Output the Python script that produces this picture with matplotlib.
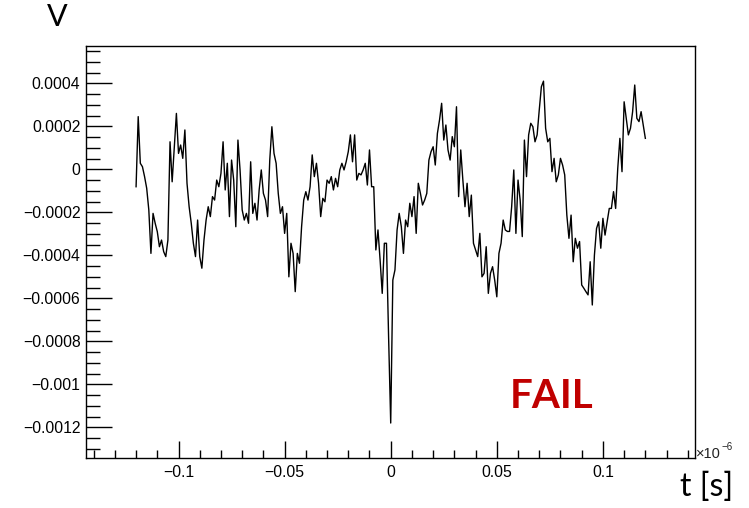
import numpy as np
import matplotlib
matplotlib.use("Agg")
import matplotlib.pyplot as plt
from matplotlib.ticker import FixedLocator, FixedFormatter

# Sampled waveform: 1 ns spacing from -0.12 to 0.12 (x 1e-6 s)
t_start, t_stop = -0.12, 0.12
# Voltage samples in units of 1e-4 V
voltage_1e4 = [
    -0.81, 2.45, 0.28, 0.12, -0.34, -0.88, -1.89, -3.91, -2.05, -2.51,
    -2.90, -3.60, -3.29, -3.83, -4.06, -3.29, 1.28, -0.58, 1.05, 2.60,
    0.74, 1.13, 0.51, 1.83, -0.65, -1.74, -2.51, -3.44, -4.06, -2.36,
    -4.06, -4.60, -3.29, -2.36, -1.74, -2.20, -1.27, -1.43, -0.50, -0.81,
    -0.19, 1.28, -0.96, 0.28, -2.20, 0.43, -0.50, -2.67, 1.36, -0.03,
    -1.89, -2.36, -2.05, -2.51, 0.35, -2.05, -1.58, -2.36, -0.96, -0.03,
    -1.12, -1.43, -2.20, 0.43, 1.98, 0.74, 0.28, -1.12, -2.05, -1.74,
    -2.98, -2.05, -5.00, -3.44, -3.91, -5.69, -3.91, -4.37, -2.67, -1.43,
    -1.04, -1.43, -0.81, 0.67, -0.34, 0.28, -0.65, -2.20, -1.35, -1.51,
    -0.50, -0.65, -0.34, -0.96, -0.42, -0.81, -0.03, 0.28, -0.03, 0.35,
    0.82, 1.60, 0.35, 1.60, -0.50, -0.19, -0.26, -0.03, 0.28, -0.73,
    0.90, -0.81, -0.81, -3.75, -2.82, -4.22, -5.77, -3.44, -3.44, -7.78,
    -11.8, -5.15, -4.68, -2.82, -2.05, -2.67, -3.91, -2.36, -2.67, -1.58,
    -2.20, -1.27, -2.98, -0.65, -1.12, -1.66, -1.43, -1.12, 0.43, 0.82,
    1.05, 0.20, 1.67, 2.29, 3.07, 1.36, 2.06, 0.90, 0.43, 1.52,
    1.05, 2.91, -1.27, 0.90, -0.50, -1.74, -0.65, -2.20, -1.20, -3.44,
    -3.75, -4.06, -2.98, -5.00, -4.84, -3.60, -5.77, -4.84, -4.53, -5.15,
    -5.93, -3.91, -3.44, -2.36, -2.82, -2.89, -2.89, -1.74, -0.03, -2.98,
    -0.50, -1.43, -3.13, 1.36, -0.34, 1.60, 2.14, 1.98, 1.28, 1.60,
    2.76, 3.84, 4.10, 1.91, 1.28, 1.44, -0.11, 0.51, -0.58, -0.26,
    0.51, 0.20, -0.26, -2.13, -3.21, -2.13, -4.30, -3.21, -3.67, -3.36,
    -5.38, -5.53, -5.69, -5.84, -4.30, -6.31, -3.99, -2.75, -2.44, -3.67,
    -2.28, -3.06, -2.44, -1.82, -1.82, -1.04, -1.82, 0.05, 1.44, -0.11,
    3.14, 2.37, 1.60, 1.91, 2.68, 3.92, 2.37, 2.22, 2.68, 2.06,
    1.44,
]

x_ticks = [-0.1, -0.05, 0.0, 0.05, 0.1]
x_tick_labels = ["\u22120.1", "\u22120.05", "0", "0.05", "0.1"]
y_ticks = [-0.0012, -0.001, -0.0008, -0.0006, -0.0004, -0.0002, 0.0, 0.0002, 0.0004]
y_tick_labels = ["\u22120.0012", "\u22120.001", "\u22120.0008", "\u22120.0006",
                 "\u22120.0004", "\u22120.0002", "0", "0.0002", "0.0004"]

volts = np.array(voltage_1e4) * 1e-4
t = np.linspace(t_start, t_stop, len(volts))

W, H, DPI = 749, 508, 100
fig = plt.figure(figsize=(W / DPI, H / DPI), dpi=DPI, facecolor="white")
ax = fig.add_axes([86 / W, 1 - 458 / H, (695 - 86) / W, (458 - 45.7) / H])

ax.plot(t, volts, color="black", lw=1.0, antialiased=True)

xlim = (-0.1436, 0.1434)
ylim = (-1.3427e-3, 5.749e-4)
ax.set_xlim(*xlim)
ax.set_ylim(*ylim)

# minor divisions: 0.01 on x, 0.00005 on y
x_minor = [k * 0.01 for k in range(-14, 15) if k % 5 != 0]
y_minor = [k * 0.00005 for k in range(-26, 12) if k % 4 != 0]

ax.xaxis.set_major_locator(FixedLocator(x_ticks))
ax.xaxis.set_major_formatter(FixedFormatter(x_tick_labels))
ax.xaxis.set_minor_locator(FixedLocator(x_minor))
ax.yaxis.set_major_locator(FixedLocator(y_ticks))
ax.yaxis.set_major_formatter(FixedFormatter(y_tick_labels))
ax.yaxis.set_minor_locator(FixedLocator(y_minor))

tick_font = "Liberation Sans"
ax.tick_params(axis="x", which="major", direction="in", length=12, width=1,
               pad=5, labelsize=11.3, colors="black")
ax.tick_params(axis="x", which="minor", direction="in", length=6, width=1,
               colors="black")
ax.tick_params(axis="y", which="major", direction="in", length=19, width=1,
               pad=4, labelsize=11.3, colors="black")
ax.tick_params(axis="y", which="minor", direction="in", length=10, width=1,
               colors="black")
for lab in ax.get_xticklabels() + ax.get_yticklabels():
    lab.set_fontfamily(tick_font)

for sp in ax.spines.values():
    sp.set_linewidth(1.0)
    sp.set_color("black")

# Axis multiplier beside the x axis end
fig.text(696 / W, 1 - 458 / H, "\u00d710", fontsize=10.5, family=tick_font,
         ha="left", va="baseline", color="#222222")
fig.text(721 / W, 1 - 450 / H, "\u22126", fontsize=7, family=tick_font,
         ha="left", va="baseline", color="#222222")

# Axis titles and status label
fig.text(57.5 / W, 1 - 17.5 / H, "V", fontsize=22, family="Lato",
         ha="center", va="center")
fig.text(733 / W, 1 - 487 / H, "t [s]", fontsize=23, family="Lato",
         ha="right", va="center")
fig.text(552 / W, 1 - 396 / H, "FAIL", fontsize=29, family="Lato",
         fontweight="bold", color="#C00000", ha="center", va="center")

fig.savefig("out.png", dpi=DPI, facecolor="white")
